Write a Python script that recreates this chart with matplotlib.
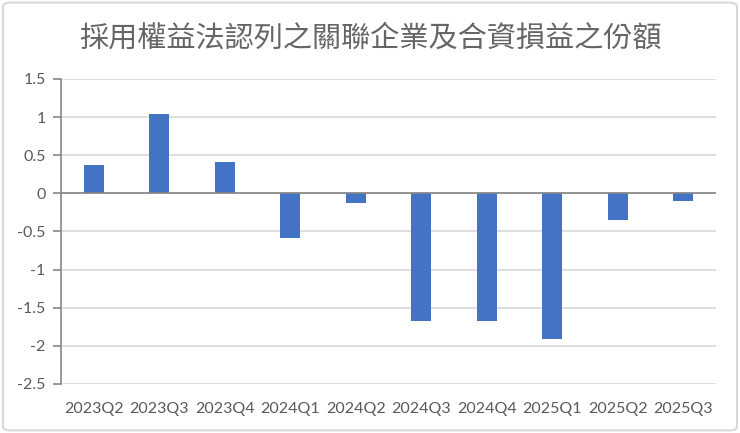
import matplotlib.pyplot as plt
from matplotlib.patches import FancyBboxPatch
import numpy as np

# ---------- Données ----------

quarters = ["2023Q2", "2023Q3", "2023Q4", "2024Q1", "2024Q2",
            "2024Q3", "2024Q4", "2025Q1", "2025Q2", "2025Q3"]
values = [0.37, 1.04, 0.41, -0.58, -0.12, -1.68, -1.68, -1.91, -0.35, -0.10]
yticks = [1.5, 1, 0.5, 0, -0.5, -1, -1.5, -2, -2.5]
title = "採用權益法認列之關聯企業及合資損益之份額"

grey = "#595959"
blue = "#4472C4"

# ---------- Figure ----------

fig = plt.figure(figsize=(7.4, 4.33), dpi=100)
ax = fig.add_axes([0.0824, 0.1132, 0.8852, 0.7044])

x = np.arange(len(quarters))
ax.bar(x, values, width=0.31, color=blue, zorder=3)

ax.set_xlim(-0.5, len(quarters) - 0.5)
ax.set_ylim(-2.5, 1.5)
ax.set_yticks(yticks)
ax.set_yticklabels([("%g" % v) for v in yticks])
ax.yaxis.grid(True, color="#d9d9d9", linewidth=1.2, zorder=0)
ax.axhline(0, color="#868686", linewidth=1.2, zorder=4)

for s in ["top", "right", "bottom"]:
    ax.spines[s].set_visible(False)
ax.spines["left"].set_color("#868686")
ax.spines["left"].set_linewidth(1.2)

ax.tick_params(axis="y", colors="#868686", length=6, width=1.2, labelcolor=grey,
               labelsize=11.5, pad=5)
ax.set_xticks(x)
ax.set_xticklabels(quarters)
ax.tick_params(axis="x", length=0, labelcolor=grey, labelsize=11.5, pad=13)
for lab in ax.get_xticklabels() + ax.get_yticklabels():
    lab.set_family(["Lato", "DejaVu Sans"])

fig.text(0.5, 0.912, title, ha="center", va="center", fontsize=21, color="#666666",
         family=["Noto Sans CJK TC", "DejaVu Sans"], fontweight="light")

# cadre gris arrondi autour du graphique
cadre = FancyBboxPatch((0.004, 0.006), 0.992, 0.988, boxstyle="round,pad=0,rounding_size=0.01",
                       transform=fig.transFigure, facecolor="none", edgecolor="#d9d9d9",
                       linewidth=1.5)
fig.patches.append(cadre)

fig.savefig("out.png", dpi=100)
